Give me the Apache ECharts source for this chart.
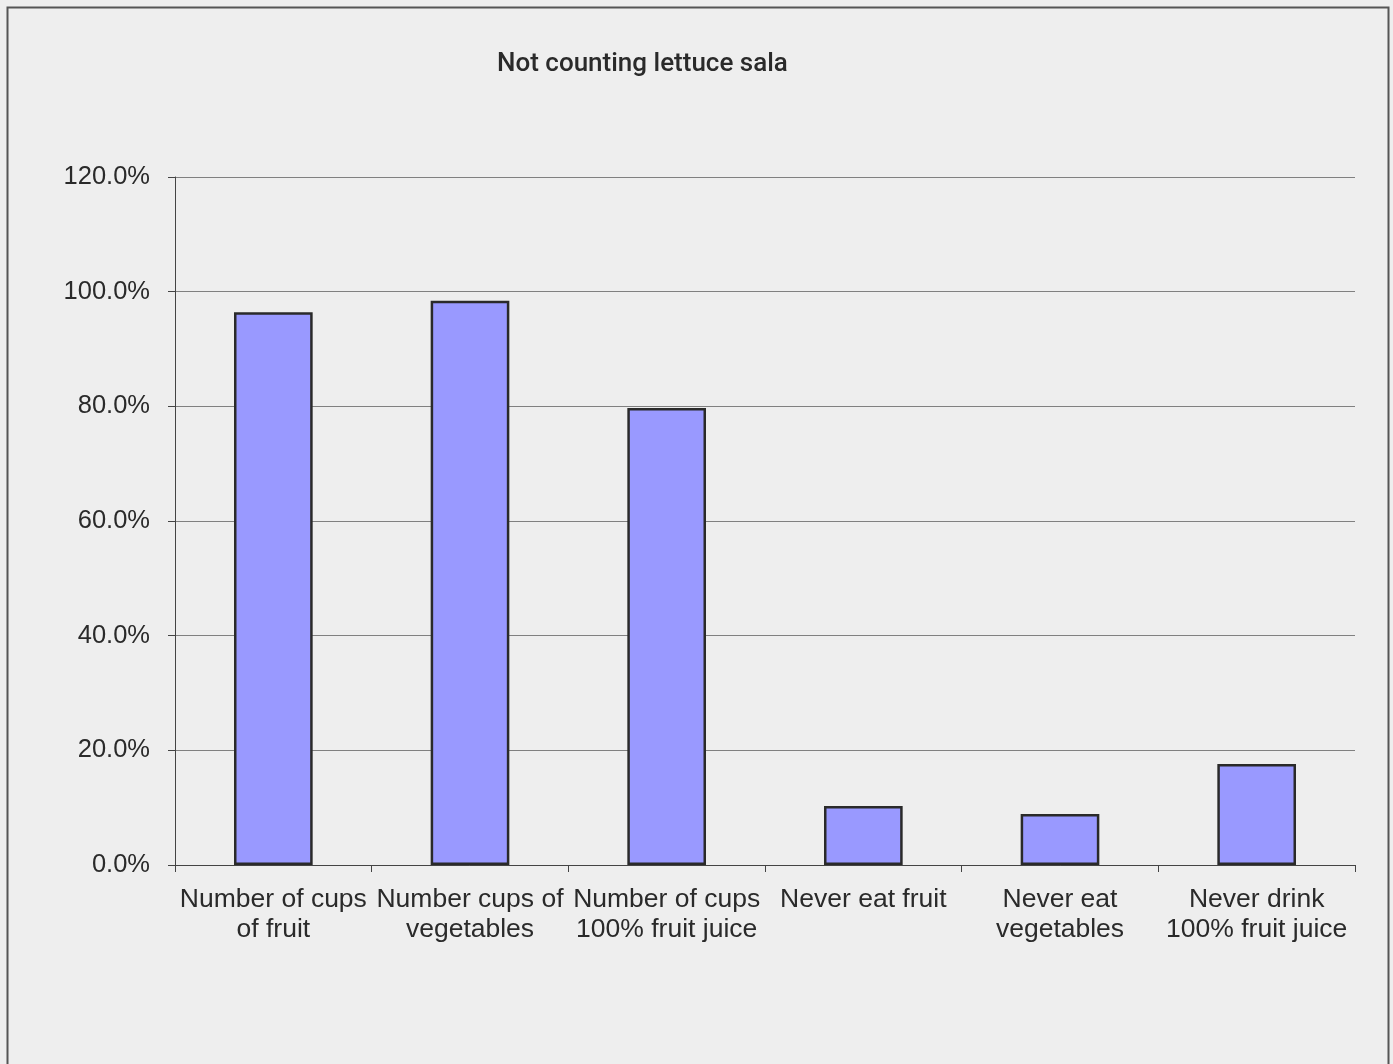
<!DOCTYPE html>
<html>
<head>
<meta charset="utf-8">
<script src="https://cdn.jsdelivr.net/npm/echarts@6/dist/echarts.min.js"></script>
<style>
html,body{margin:0;padding:0;background:#eeeeee;}
#chart{width:1393px;height:1064px;}
</style>
</head>
<body>
<div id="chart"></div>
<script>
var titleText = "Not counting lettuce sala";
var categories = ["Number of cups\nof fruit", "Number cups of\nvegetables", "Number of cups\n100% fruit juice", "Never eat fruit", "Never eat\nvegetables", "Never drink\n100% fruit juice"];
var values = [96.4, 98.4, 79.7, 10.3, 8.9, 17.6];
var yTicks = [0, 20, 40, 60, 80, 100, 120];

var chart = echarts.init(document.getElementById('chart'), null, {renderer: 'canvas'});
chart.setOption({
  backgroundColor: '#eeeeee',
  animation: false,
  title: {
    text: titleText,
    left: 492,
    top: 46,
    textStyle: {fontFamily: 'Roboto', fontWeight: 500, fontSize: 26, color: '#2a2a2a'}
  },
  graphic: [{
    type: 'rect',
    shape: {x: 7.5, y: 7.5, width: 1381, height: 1100},
    style: {fill: 'none', stroke: '#555555', lineWidth: 2},
    silent: true
  }],
  grid: {left: 175, right: 38, top: 177, bottom: 199, containLabel: false},
  xAxis: {
    type: 'category',
    data: categories,
    axisLine: {lineStyle: {color: '#444444', width: 1}},
    axisTick: {show: true, alignWithLabel: false, length: 7, lineStyle: {color: '#444444'}},
    axisLabel: {
      interval: 0,
      margin: 20,
      fontFamily: 'Liberation Sans',
      fontSize: 26.5,
      lineHeight: 30,
      color: '#2a2a2a',
      align: 'center'
    },
    splitLine: {show: false}
  },
  yAxis: {
    type: 'value',
    min: yTicks[0],
    max: yTicks[yTicks.length - 1],
    interval: 20,
    axisLine: {show: true, lineStyle: {color: '#444444', width: 1}},
    axisTick: {show: true, length: 7, lineStyle: {color: '#444444'}},
    axisLabel: {
      margin: 25,
      fontFamily: 'Liberation Sans',
      fontSize: 25.5,
      color: '#2a2a2a',
      padding: [4, 0, 0, 0],
      formatter: function (v) { return v.toFixed(1) + '%'; }
    },
    splitLine: {show: true, lineStyle: {color: '#808080', width: 1}}
  },
  series: [{
    type: 'bar',
    data: values,
    barWidth: '40%',
    itemStyle: {color: '#9999ff', borderColor: '#2a2a2a', borderWidth: 2.5}
  }]
});
</script>
</body>
</html>
